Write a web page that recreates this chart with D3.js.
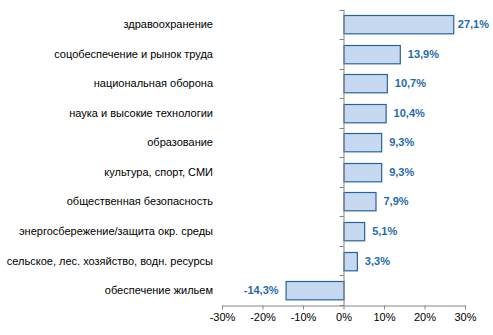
<!DOCTYPE html>
<html><head><meta charset="utf-8">
<script src="https://cdn.jsdelivr.net/npm/d3@7/dist/d3.min.js"></script>
<style>body{margin:0;background:#fff}svg{display:block}</style>
</head><body>
<script>
const categories = [
  "здравоохранение",
  "соцобеспечение и рынок труда",
  "национальная оборона",
  "наука и высокие технологии",
  "образование",
  "культура, спорт, СМИ",
  "общественная безопасность",
  "энергосбережение/защита окр. среды",
  "сельское, лес. хозяйство, водн. ресурсы",
  "обеспечение жильем"
];
const values = [27.1, 13.9, 10.7, 10.4, 9.3, 9.3, 7.9, 5.1, 3.3, -14.3];
const xTicks = [-30, -20, -10, 0, 10, 20, 30];

const W = 493, H = 335;
const svg = d3.select("body").append("svg").attr("width", W).attr("height", H);
const font = "Arial, 'Liberation Sans', sans-serif";

const x = d3.scaleLinear().domain([-30, 30]).range([222, 465]);
const y = d3.scaleBand().domain(categories).range([9.7, 305]).paddingInner(0.38).paddingOuter(0.19);
const yb = d3.scaleBand().domain(categories).range([9.7, 305]);

// bars
svg.append("g").selectAll("rect").data(values).join("rect")
  .attr("x", d => x(Math.min(0, d)) + 0.5)
  .attr("y", (d, i) => Math.round(y(categories[i])) + 0.5)
  .attr("width", d => Math.abs(x(d) - x(0)))
  .attr("height", y.bandwidth())
  .attr("fill", "#C6D9F1")
  .attr("stroke", "#2563A0")
  .attr("stroke-width", 1.2);

// x axis
const xAxis = svg.append("g").attr("transform", "translate(0,305.5)")
  .call(d3.axisBottom(x).tickValues(xTicks).tickSize(4).tickPadding(4).tickFormat(d => d + "%"));
xAxis.select(".domain").attr("stroke", "#868686");
xAxis.selectAll(".tick line").attr("stroke", "#868686");
xAxis.selectAll("text").attr("font-family", font).attr("font-size", 11).attr("fill", "#000");

// y axis (at zero) with ticks between categories
const yTickPos = d3.range(categories.length + 1).map(i => 9.7 + i * yb.step());
const yg = svg.append("g");
yg.append("line").attr("x1", x(0) + 0.5).attr("x2", x(0) + 0.5).attr("y1", 9.7).attr("y2", 305.5).attr("stroke", "#868686");
yg.selectAll("line.t").data(yTickPos).join("line").attr("class", "t")
  .attr("x1", x(0) - 4).attr("x2", x(0) + 0.5)
  .attr("y1", d => Math.round(d) + 0.5).attr("y2", d => Math.round(d) + 0.5)
  .attr("stroke", "#868686");

// category labels
svg.append("g").selectAll("text").data(categories).join("text")
  .attr("x", 213)
  .attr("y", d => yb(d) + yb.step() / 2)
  .attr("dy", "0.35em")
  .attr("text-anchor", "end")
  .attr("font-family", font).attr("font-size", 11).attr("fill", "#000")
  .text(d => d);

// value labels
const fmt = v => v.toFixed(1).replace(".", ",") + "%";
svg.append("g").selectAll("text").data(values).join("text")
  .attr("font-family", font).attr("font-size", 11).attr("font-weight", "bold").attr("fill", "#1F6BAB")
  .attr("y", (d, i) => yb(categories[i]) + yb.step() / 2)
  .attr("dy", "0.35em")
  .text(d => fmt(d))
  .each(function(d) {
    const t = d3.select(this);
    const w = this.getComputedTextLength();
    if (d >= 0) {
      let xs = x(d) + 8;
      if (xs + w > 489) xs = 489 - w;
      t.attr("x", xs).attr("text-anchor", "start");
    } else {
      t.attr("x", x(d) - 7).attr("text-anchor", "end");
    }
  });
</script>
</body></html>
